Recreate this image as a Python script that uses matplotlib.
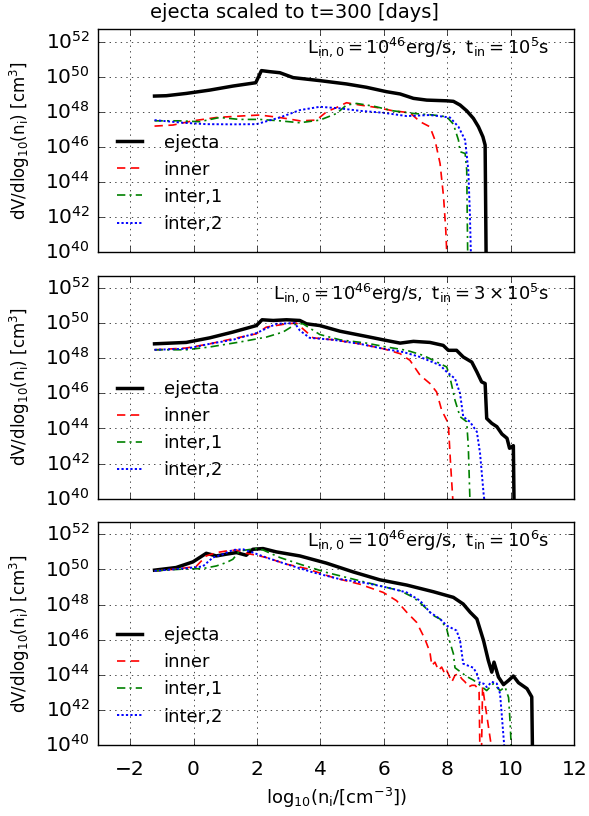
import numpy as np
import matplotlib
matplotlib.use('Agg')
import matplotlib.pyplot as plt
from matplotlib.ticker import NullLocator

plt.style.use('classic')
plt.rcParams['mathtext.fontset'] = 'dejavusans'
plt.rcParams['mathtext.default'] = 'regular'
plt.rcParams['figure.facecolor'] = 'white'

# ---- data: x = log10(n_i), y = log10(dV/dlog10 n_i) ----
# panel 1 : t_in = 1e5 s
x1_ej = [-1.23, -0.86, -0.23, 0.51, 1.24, 1.96, 2.14, 2.40, 2.72, 3.14, 3.98, 4.82, 5.45, 6.08,
         6.51, 6.93, 7.35, 7.98, 8.19, 8.40, 8.61, 8.82, 8.98, 9.12, 9.19, 9.22, 9.25]
y1_ej = [48.90, 48.92, 49.05, 49.24, 49.47, 49.66, 50.35, 50.29, 50.23, 49.95, 49.78, 49.59, 49.40, 49.15,
         49.02, 48.77, 48.67, 48.63, 48.60, 48.39, 48.06, 47.63, 47.15, 46.58, 46.11, 40.0, 30.0]
x1_in = [-1.23, -0.65, -0.02, 0.72, 1.45, 2.08, 2.72, 3.35, 3.87, 4.19, 4.51, 4.82, 5.24, 5.77,
         6.29, 6.82, 7.14, 7.45, 7.61, 7.77, 7.88, 7.95, 7.98, 8.0]
y1_in = [47.19, 47.25, 47.49, 47.68, 47.76, 47.82, 47.68, 47.49, 47.53, 48.00, 48.25, 48.52, 48.39, 48.25,
         48.06, 47.95, 47.44, 47.15, 46.39, 45.06, 43.16, 41.26, 40.0, 30.0]
x1_i1 = [-1.23, -0.44, 0.19, 0.82, 1.45, 2.08, 2.72, 3.35, 3.98, 4.51, 4.82, 5.14, 5.66, 6.29,
         6.93, 7.56, 7.98, 8.19, 8.35, 8.40, 8.56, 8.61, 8.64, 8.66]
y1_i1 = [47.49, 47.49, 47.44, 47.68, 47.57, 47.57, 47.49, 47.38, 47.53, 47.91, 48.39, 48.48, 48.33, 48.06,
         47.91, 47.82, 47.72, 47.30, 46.39, 45.73, 45.63, 44.68, 40.0, 30.0]
x1_i2 = [-1.23, -0.34, 0.40, 1.24, 1.98, 2.72, 3.35, 3.98, 4.61, 5.24, 5.98, 6.72, 7.45, 8.08,
         8.35, 8.56, 8.66, 8.71, 8.74, 8.76]
y1_i2 = [47.53, 47.38, 47.30, 47.29, 47.30, 47.68, 48.10, 48.29, 48.20, 48.06, 47.95, 47.76, 47.82, 47.68,
         47.15, 46.39, 44.68, 42.21, 40.0, 30.0]

# panel 2 : t_in = 3e5 s
x2_ej = [-1.23, -0.23, 0.51, 1.24, 1.98, 2.16, 2.51, 2.93, 3.35, 3.56, 3.98, 4.61, 5.45, 6.08,
         6.51, 6.93, 7.45, 7.87, 8.03, 8.29, 8.50, 8.77, 8.93, 9.08, 9.19, 9.24, 9.40, 9.56,
         9.72, 9.88, 9.96, 10.08, 10.10, 10.12]
y2_ej = [48.82, 48.90, 49.16, 49.49, 49.86, 50.19, 50.15, 50.19, 50.15, 49.96, 49.86, 49.54, 49.24, 49.01,
         48.86, 48.96, 48.90, 48.73, 48.45, 48.45, 48.07, 47.78, 47.22, 46.65, 46.56, 44.57, 44.29, 44.10,
         43.68, 43.44, 42.87, 43.02, 40.0, 30.0]
x2_in = [-1.23, -0.23, 0.51, 1.24, 1.98, 2.29, 2.93, 3.24, 3.45, 3.77, 4.40, 5.24, 5.98, 6.51,
         6.82, 7.14, 7.45, 7.66, 7.82, 8.03, 8.10, 8.17, 8.19]
y2_in = [48.48, 48.58, 48.82, 49.11, 49.39, 49.77, 49.96, 50.00, 49.67, 49.16, 49.05, 48.82, 48.54, 48.26,
         47.88, 47.03, 46.56, 46.08, 45.04, 44.29, 42.02, 40.0, 30.0]
x2_i1 = [-1.23, -0.23, 0.51, 1.45, 2.29, 2.82, 3.24, 3.45, 3.98, 4.61, 5.45, 6.08, 6.72, 7.24,
         7.56, 7.98, 8.08, 8.24, 8.40, 8.61, 8.66, 8.71, 8.73]
y2_i1 = [48.48, 48.48, 48.64, 48.92, 49.20, 49.49, 49.96, 49.96, 49.35, 49.05, 48.86, 48.64, 48.45, 48.16,
         47.88, 47.50, 46.93, 45.61, 44.67, 44.38, 42.96, 40.0, 30.0]
x2_i2 = [-1.23, -0.23, 0.51, 1.24, 1.98, 2.61, 3.19, 3.35, 3.66, 4.40, 5.24, 5.98, 6.61, 7.14,
         7.77, 7.98, 8.24, 8.40, 8.50, 8.71, 8.93, 9.03, 9.14, 9.16, 9.18]
y2_i2 = [48.48, 48.54, 48.82, 49.05, 49.43, 49.96, 50.00, 49.58, 49.16, 49.05, 48.82, 48.54, 48.35, 48.07,
         47.60, 47.22, 46.84, 45.99, 44.67, 44.38, 43.81, 42.59, 40.32, 40.0, 30.0]

# panel 3 : t_in = 1e6 s
x3_ej = [-1.23, -0.55, -0.02, 0.40, 0.72, 1.03, 1.35, 1.66, 1.87, 2.19, 2.61, 3.35, 4.19, 5.03,
         5.87, 6.72, 7.56, 8.19, 8.50, 8.72, 8.93, 9.14, 9.29, 9.40, 9.47, 9.61, 9.77, 9.93,
         10.08, 10.24, 10.51, 10.66, 10.68, 10.70]
y3_ej = [49.96, 50.11, 50.43, 50.92, 50.77, 50.87, 50.96, 50.81, 51.15, 51.19, 51.00, 50.77, 50.36, 49.86,
         49.41, 49.11, 48.73, 48.41, 48.03, 47.56, 47.18, 45.95, 44.82, 44.15, 44.72, 43.87, 43.44, 43.68,
         43.93, 43.55, 43.21, 42.74, 40.0, 30.0]
x3_in = [-1.23, -0.55, 0.08, 0.40, 0.72, 1.03, 1.35, 1.66, 1.98, 2.29, 2.93, 3.56, 4.40, 5.24,
         5.98, 6.40, 6.72, 7.03, 7.29, 7.45, 7.51, 7.61, 7.72, 7.82, 7.92, 7.98, 8.14, 8.24,
         8.35, 8.45, 8.56, 8.66, 8.77, 8.87, 8.97, 9.00, 9.03, 9.07, 9.11, 9.38, 9.40]
y3_in = [49.92, 50.02, 50.17, 50.77, 50.96, 51.05, 51.11, 50.92, 50.81, 50.68, 50.30, 50.05, 49.54, 49.16,
         48.69, 48.22, 47.56, 46.99, 46.05, 45.29, 44.53, 44.72, 44.25, 44.44, 44.06, 44.25, 43.59, 43.97,
         44.06, 43.78, 43.59, 43.30, 43.40, 43.40, 43.21, 43.02, 39.0, 39.0, 43.30, 40.0, 30.0]
x3_i1 = [-1.23, -0.34, 0.29, 0.72, 1.03, 1.24, 1.45, 1.66, 1.98, 2.19, 2.72, 3.35, 4.19, 5.03,
         5.87, 6.51, 6.93, 7.24, 7.56, 7.77, 7.98, 8.08, 8.19, 8.24, 8.50, 8.61, 8.82, 9.03,
         9.24, 9.45, 9.66, 9.82, 9.93, 9.98, 10.01, 10.03]
y3_i1 = [49.92, 50.02, 50.05, 50.20, 50.39, 50.58, 51.05, 51.11, 51.19, 51.11, 50.68, 50.30, 49.83, 49.45,
         49.07, 48.79, 48.41, 47.94, 47.37, 47.18, 46.61, 45.86, 45.20, 44.40, 44.05, 43.90, 43.70, 43.40,
         43.10, 43.50, 43.10, 43.30, 42.70, 41.20, 40.0, 30.0]
x3_i2 = [-1.23, -0.34, 0.29, 0.61, 0.93, 1.24, 1.56, 1.87, 2.29, 2.93, 3.77, 4.61, 5.45, 6.08,
         6.72, 7.14, 7.45, 7.77, 7.98, 8.29, 8.40, 8.50, 8.82, 8.93, 9.03, 9.14, 9.24, 9.40,
         9.56, 9.66, 9.72, 9.79, 9.81]
y3_i2 = [49.92, 50.05, 50.17, 50.68, 50.87, 51.11, 51.15, 50.96, 50.68, 50.30, 49.83, 49.45, 49.22, 48.98,
         48.69, 48.22, 47.56, 47.18, 46.80, 46.52, 45.95, 44.63, 44.40, 44.06, 43.50, 43.50, 43.30, 43.60,
         43.50, 42.93, 41.60, 40.0, 30.0]

labels = ['ejecta', 'inner', 'inter,1', 'inter,2']
notes = [r'$L_{in,0}=10^{46}erg/s,\ t_{in}=10^{5}s$',
         r'$L_{in,0}=10^{46}erg/s,\ t_{in}=3\times10^{5}s$',
         r'$L_{in,0}=10^{46}erg/s,\ t_{in}=10^{6}s$']

panels = [
    [(x1_ej, y1_ej), (x1_in, y1_in), (x1_i1, y1_i1), (x1_i2, y1_i2)],
    [(x2_ej, y2_ej), (x2_in, y2_in), (x2_i1, y2_i1), (x2_i2, y2_i2)],
    [(x3_ej, y3_ej), (x3_in, y3_in), (x3_i1, y3_i1), (x3_i2, y3_i2)],
]
styles = [dict(color='k', ls='-', lw=2.5),
          dict(color='r', dashes=(6, 4), lw=1.2),
          dict(color='g', dashes=(6, 3, 1.5, 3), lw=1.2),
          dict(color='b', dashes=(1.6, 1.6), lw=1.4)]

fig, axes = plt.subplots(3, 1, figsize=(5.89, 8.16), dpi=100, sharex=True)
fig.subplots_adjust(left=0.167, right=0.975, top=0.964, bottom=0.087, hspace=0.105)

for i, ax in enumerate(axes):
    for (xs, ys), st, lab in zip(panels[i], styles, labels):
        ax.semilogy(xs, 10.0 ** np.array(ys), label=lab, **st)
    ax.set_xlim(-3, 12)
    ax.set_ylim(1e40, 5e52)
    ax.set_yticks(10.0 ** np.arange(40, 53, 2))
    ax.yaxis.set_minor_locator(NullLocator())
    ax.grid(True)
    ax.tick_params(labelsize=14.5)
    ax.tick_params(axis='y', pad=6)
    ax.tick_params(axis='x', pad=11)
    ax.set_ylabel(r'dV/dlog$_{10}$(n$_i$) [cm$^3$]', fontsize=12)
    ax.yaxis.set_label_coords(-0.14, 0.5)
    ax.text(0.947, 0.92, notes[i], transform=ax.transAxes, ha='right', va='center', fontsize=13)
    ax.legend(loc='lower left', bbox_to_anchor=(0.012, 0.055), borderaxespad=0,
              frameon=False, fontsize=13, handletextpad=0.9)

fig.suptitle('ejecta scaled to t=300 [days]', fontsize=14, y=0.996, va='top')
axes[2].set_xlabel(r'log$_{10}$(n$_i$/[cm$^{-3}$])', fontsize=13)

fig.savefig('out.png', dpi=100)
